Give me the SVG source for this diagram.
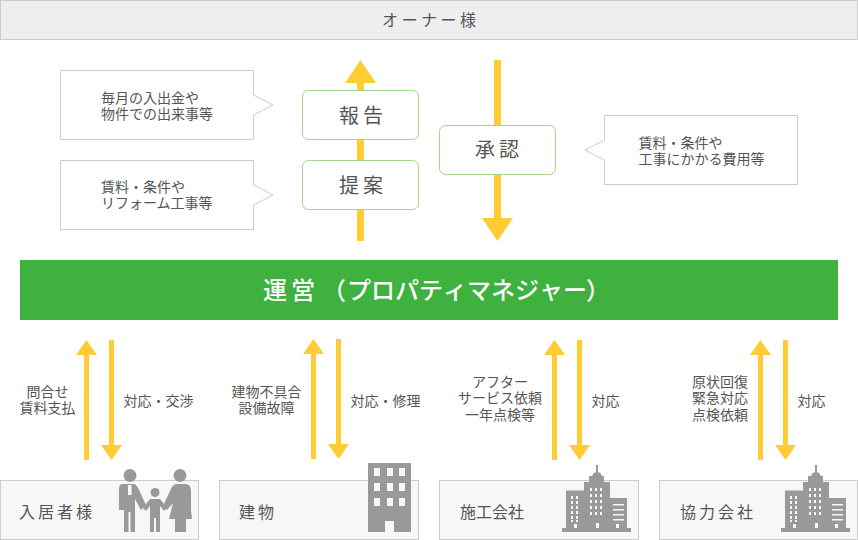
<svg xmlns="http://www.w3.org/2000/svg" width="858" height="540" viewBox="0 0 858 540">
<style>
text{font-family:"Noto Sans CJK JP","Noto Sans",sans-serif;fill:#555}
.s{font-size:14px}
.m{text-anchor:middle}
.b{font-size:20px;letter-spacing:4px}
.l{font-size:16px;letter-spacing:3px}
.bar{fill:#eee;stroke:#ccc}
.call{fill:#fff;stroke:#ccc}
.box{fill:#fff;stroke:#a5d58a}
.base{fill:#f7f7f7;stroke:#ccc}
.arrow{fill:#fc3}
.ico{fill:#999}
.win{fill:#f7f7f7}
</style>
<defs>
<g id="city">
<path class="ico" d="M562 532V528H566V490.500H584V482H589V476H592L594 472.500H596V465H598V472.500H600L602 476H604V482H610V498H627V528H631V532Z"/>
<g class="win">
<path d="M571 496h2v3h-2zM576 496h2v3h-2zM571 501h2v3h-2zM576 501h2v3h-2zM571 506h2v3h-2zM576 506h2v3h-2zM571 511h2v3h-2zM576 511h2v3h-2zM571 516h2v3h-2zM576 516h2v3h-2zM571 520h2v2h-2zM576 520h2v2h-2z"/>
<path d="M590 488h2v3h-2zM595 488h2v3h-2zM600 488h2v3h-2zM590 494h2v3h-2zM595 494h2v3h-2zM600 494h2v3h-2zM590 500h2v3h-2zM595 500h2v3h-2zM600 500h2v3h-2zM590 506h2v3h-2zM595 506h2v3h-2zM600 506h2v3h-2zM590 512h2v3h-2zM595 512h2v3h-2zM600 512h2v3h-2z"/>
<path d="M613 504h11v1.500h-11zM613 509h11v1.500h-11zM613 514h11v1.500h-11zM613 519h11v1.500h-11z"/>
<path d="M574 524h3v4h-3zM596 523h3v5h-3zM616 524h3v4h-3z"/>
</g>
</g>
</defs>

<g id="connectors">
<path class="arrow" d="M357 241V83H345L360.500 60L376 83H364V241Z"/>
<path class="arrow" d="M494 60H501V218H513L497.500 241L482 218H494Z"/>
<path class="arrow" d="M84 460V355H76L86.500 340L97 355H89V460Z"/>
<path class="arrow" d="M109 340H114V445H122L111.500 460L101 445H109Z"/>
<path class="arrow" d="M311 459V354H303L313.500 339L324 354H316V459Z"/>
<path class="arrow" d="M336 339H341V444H349L338.500 459L328 444H336Z"/>
<path class="arrow" d="M552 460V355H544L554.500 340L565 355H557V460Z"/>
<path class="arrow" d="M577 340H582V445H590L579.500 460L569 445H577Z"/>
<path class="arrow" d="M758 460V355H750L760.500 340L771 355H763V460Z"/>
<path class="arrow" d="M783 340H788V445H796L785.500 460L775 445H783Z"/>
</g>

<g id="owner">
<rect class="bar" x="0.500" y="0.500" width="857" height="39"/>
<text x="382" y="26" class="l" style="letter-spacing:3.500px">オーナー様</text>
</g>

<g id="note-report">
<path class="call" d="M60.500 70.500H253.500V95L273 105L253.500 115V139.500H60.500Z"/>
<text x="101" y="103" class="s">毎月の入出金や</text>
<text x="101" y="119" class="s">物件での出来事等</text>
</g>
<g id="note-proposal">
<path class="call" d="M60.500 160.500H253.500V185L273 195L253.500 205V229.500H60.500Z"/>
<text x="101" y="192" class="s">賃料・条件や</text>
<text x="101" y="208" class="s">リフォーム工事等</text>
</g>
<g id="note-approval">
<path class="call" d="M604.500 115.500H797.500V184.500H604.500V160L585 150L604.500 140Z"/>
<text x="638.500" y="148" class="s">賃料・条件や</text>
<text x="638.500" y="164" class="s">工事にかかる費用等</text>
</g>

<g id="report">
<rect class="box" x="302.500" y="90.500" width="116" height="49" rx="6"/>
<text x="339" y="123" class="b">報告</text>
</g>
<g id="proposal">
<rect class="box" x="302.500" y="160.500" width="116" height="49" rx="6"/>
<text x="339" y="193" class="b">提案</text>
</g>
<g id="approval">
<rect class="box" x="439.500" y="125.500" width="116" height="49" rx="6"/>
<text x="475" y="157" class="b">承認</text>
</g>

<g id="manager">
<rect x="20" y="260" width="818" height="60" fill="#3eb13e"/>
<text x="263 291 322 347 371 395 419 443 467 491 515 539 563 586" y="299" font-size="24" font-weight="500" style="fill:#fff">運営（プロパティマネジャー）</text>
</g>

<g id="labels">
<text x="47.500" y="397" class="s m">問合せ</text>
<text x="47.500" y="413" class="s m">賃料支払</text>
<text x="123.500" y="406" class="s">対応・交渉</text>
<text x="266.500" y="397" class="s m">建物不具合</text>
<text x="266.500" y="413" class="s m">設備故障</text>
<text x="350.500" y="406" class="s">対応・修理</text>
<text x="500" y="387" class="s m">アフター</text>
<text x="500" y="403" class="s m">サービス依頼</text>
<text x="500" y="420" class="s m">一年点検等</text>
<text x="591.500" y="406" class="s">対応</text>
<text x="720" y="387" class="s m">原状回復</text>
<text x="720" y="403" class="s m">緊急対応</text>
<text x="720" y="420" class="s m">点検依頼</text>
<text x="797.500" y="406" class="s">対応</text>
</g>

<g id="resident">
<rect class="base" x="0.500" y="480.500" width="198" height="59"/>
<text x="19" y="518" class="l">入居者様</text>
<circle class="ico" cx="130" cy="475.500" r="6.500"/>
<circle class="ico" cx="180" cy="475.500" r="6.500"/>
<circle class="ico" cx="155" cy="492.500" r="4.500"/>
<path class="ico" d="M123 484H134Q137 485 139 490L146 505L141 510L135 499V532H130.500V512H128.500V532H124V510H119V489Q119 484 123 484Z"/>
<path class="ico" d="M143 508L146 504L150 499H160L164 504L167 508L164 511L160 506V532H156V518H154V532H150V506L146 511Z"/>
<path class="ico" d="M176 484H186Q191 485 191 491V510L192 519H186V532H175V519H169L173 503L167 510L163 506L170 491Q172 485 176 484Z"/>
<path class="win" d="M128 485H131.500V495H128Z"/>
</g>
<g id="building">
<rect class="base" x="219.500" y="480.500" width="199" height="59"/>
<text x="239" y="518" class="l">建物</text>
<rect class="ico" x="368" y="463" width="43" height="69"/>
<path class="win" d="M374 468h6v8h-6zM387 468h6v8h-6zM399 468h6v8h-6zM374 483h6v8h-6zM387 483h6v8h-6zM399 483h6v8h-6zM374 498h6v8h-6zM387 498h6v8h-6zM399 498h6v8h-6zM385 521h9v11h-9z"/>
</g>
<g id="contractor">
<rect class="base" x="439.500" y="480.500" width="199" height="59"/>
<text x="460" y="518" style="font-size:16px">施工会社</text>
<use href="#city"/>
</g>
<g id="partner">
<rect class="base" x="659.500" y="480.500" width="198" height="59"/>
<text x="680" y="518" class="l">協力会社</text>
<use href="#city" x="219"/>
</g>
</svg>
